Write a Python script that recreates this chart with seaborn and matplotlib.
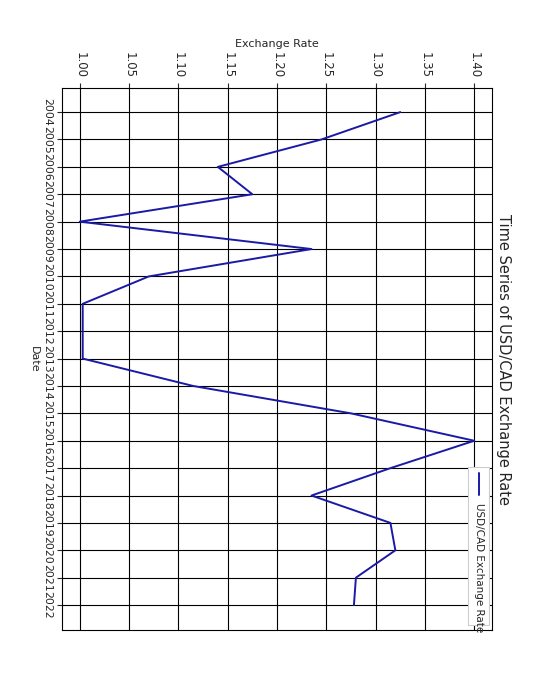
import matplotlib
matplotlib.use("Agg")
import matplotlib.pyplot as plt
import seaborn as sns
import pandas as pd
from matplotlib.patches import Rectangle

years = list(range(2004, 2023))
rates = [1.325, 1.245, 1.14, 1.175, 1.00, 1.235, 1.07, 1.003, 1.003, 1.003,
         1.115, 1.275, 1.40, 1.315, 1.235, 1.315, 1.32, 1.28, 1.278]
xticks = [1.00, 1.05, 1.10, 1.15, 1.20, 1.25, 1.30, 1.35, 1.40]

df = pd.DataFrame({"Date": years, "Rate": rates})
sns.set_style("ticks")
fig = plt.figure(figsize=(5.6, 7), dpi=100)
ax = fig.add_axes([62/560, 1-630/700, 430/560, 542/700])
color = "#1a1aa6"
sns.lineplot(data=df, x="Rate", y="Date", sort=False, orient="y", color=color, lw=1.4, ax=ax)
ax.set_xlim(0.982, 1.418)
ax.set_ylim(2022.91, 2003.12)
ax.set_xticks(xticks)
ax.set_xticklabels([f"{v:.2f}" for v in xticks], rotation=-90, fontsize=8.5)
ax.set_yticks(years)
ax.set_yticklabels([str(y) for y in years], rotation=-90, va="center", fontsize=7.8)
ax.xaxis.tick_top()
ax.xaxis.set_label_position("top")
ax.set_xlabel("Exchange Rate", fontsize=8)
ax.set_ylabel("Date", rotation=-90, fontsize=8, labelpad=10)
ax.grid(True, color="black", lw=0.8)
for s in ax.spines.values():
    s.set_color("black")
fig.text(503/560, 1-360/700, "Time Series of USD/CAD Exchange Rate", rotation=-90,
         ha="center", va="center", fontsize=10.5)
# legend (rotated)
ax.add_patch(Rectangle((0.945, 0.01), 0.048, 0.29, transform=ax.transAxes,
                       facecolor="white", edgecolor="#cccccc", lw=0.8, zorder=5))
ax.plot([0.97, 0.97], [0.29, 0.25], transform=ax.transAxes, color=color, lw=1.4, zorder=6)
ax.text(0.97, 0.235, "USD/CAD Exchange Rate", transform=ax.transAxes, rotation=-90,
        ha="center", va="top", fontsize=7.5, zorder=6)
fig.savefig("out.png", dpi=100)
